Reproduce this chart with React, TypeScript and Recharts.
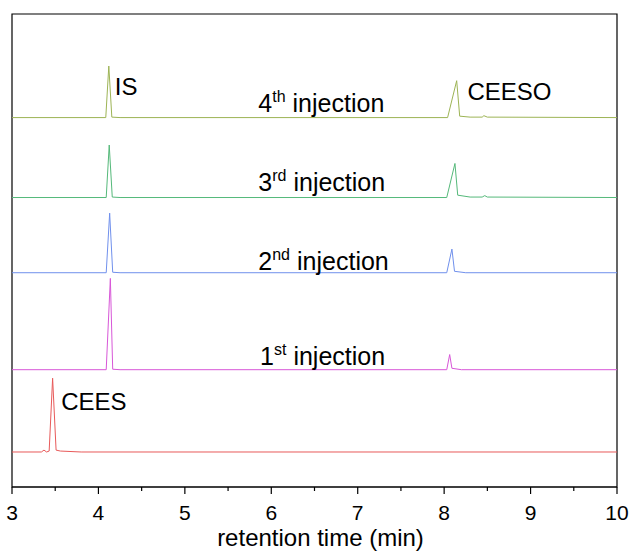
import React from 'react';
import { LineChart, Line, XAxis, YAxis, ReferenceArea, ReferenceDot } from 'recharts';

// retention time (min) / signal (offset units, plot 0..100)
const ceesTime = [3.0, 3.34, 3.37, 3.40, 3.43, 3.47, 3.51, 3.56, 3.8, 10.0];
const ceesSignal = [7.4, 7.4, 7.8, 7.4, 7.6, 23.0, 7.8, 7.6, 7.4, 7.4];

const inj1Time = [3.0, 4.09, 4.138, 4.165, 4.25, 8.03, 8.064, 8.09, 8.2, 10.0];
const inj1Signal = [24.8, 24.8, 44.1, 24.9, 24.8, 24.8, 28.0, 25.1, 24.8, 24.8];

const inj2Time = [3.0, 4.09, 4.13, 4.165, 4.25, 8.03, 8.09, 8.12, 8.25, 10.0];
const inj2Signal = [45.3, 45.3, 57.9, 45.4, 45.3, 45.3, 50.3, 45.6, 45.3, 45.3];

const inj3Time = [3.0, 4.09, 4.125, 4.16, 4.25, 8.03, 8.125, 8.157, 8.3, 8.44, 8.47, 8.5, 10.0];
const inj3Signal = [61.2, 61.2, 72.3, 61.3, 61.2, 61.2, 68.4, 61.7, 61.3, 61.3, 61.6, 61.3, 61.2];

const inj4Time = [3.0, 4.085, 4.12, 4.155, 4.25, 8.04, 8.145, 8.18, 8.3, 8.44, 8.46, 8.5, 10.0];
const inj4Signal = [78.1, 78.1, 89.0, 78.2, 78.1, 78.1, 85.9, 78.4, 78.2, 78.2, 78.5, 78.2, 78.1];

const xTicks = [3, 3.5, 4, 4.5, 5, 5.5, 6, 6.5, 7, 7.5, 8, 8.5, 9, 9.5, 10];

const labels = [
  { x: 4.19, y: 82.9, text: 'IS' },
  { x: 8.27, y: 81.9, text: 'CEESO' },
  { x: 3.57, y: 16.3, text: 'CEES' },
];
const injLabels = [
  { x: 5.85, y: 79.3, num: '4', sup: 'th' },
  { x: 5.85, y: 62.6, num: '3', sup: 'rd' },
  { x: 5.85, y: 45.9, num: '2', sup: 'nd' },
  { x: 5.87, y: 25.8, num: '1', sup: 'st' },
];

const build = (t: number[], s: number[]) => t.map((v, i) => ({ t: v, s: s[i] }));

const series = [
  { name: 'CEES', data: build(ceesTime, ceesSignal), color: '#e85a5a' },
  { name: '1st', data: build(inj1Time, inj1Signal), color: '#d857d8' },
  { name: '2nd', data: build(inj2Time, inj2Signal), color: '#7090ec' },
  { name: '3rd', data: build(inj3Time, inj3Signal), color: '#55b97a' },
  { name: '4th', data: build(inj4Time, inj4Signal), color: '#9db455' },
];

const FONT = 'Liberation Sans, Arial, sans-serif';

const Tick = (props: any) => {
  const { x, y, payload } = props;
  const major = Number.isInteger(payload.value);
  return (
    <g>
      <line x1={x} x2={x} y1={y} y2={y + (major ? 7 : 4)} stroke="#000" strokeWidth={1.2} />
      {major && (
        <text x={x} y={y + 33} textAnchor="middle" fontSize={21} fontFamily={FONT} fill="#000">
          {payload.value}
        </text>
      )}
    </g>
  );
};

export default function App() {
  return (
    <div style={{ position: 'absolute', left: 0, top: 0 }}>
      <LineChart width={631} height={552} margin={{ top: 14, right: 14, bottom: 0, left: 12 }}>
        <XAxis
          dataKey="t"
          type="number"
          domain={[3, 10]}
          ticks={xTicks}
          allowDuplicatedCategory={false}
          tick={<Tick />}
          tickLine={false}
          tickSize={0}
          tickMargin={0}
          interval={0}
          height={65}
          axisLine={{ stroke: '#000', strokeWidth: 1.2 }}
          label={{ value: 'retention time (min)', position: 'insideBottom', offset: 6, dx: 6, fontSize: 24, fontFamily: FONT, fill: '#000' }}
        />
        <YAxis type="number" domain={[0, 100]} hide />
        <ReferenceArea x1={3} x2={10} y1={0} y2={100} fill="none" stroke="#000" strokeWidth={1.2} ifOverflow="extendDomain" />
        {series.map((s) => (
          <Line
            key={s.name}
            data={s.data}
            dataKey="s"
            type="linear"
            stroke={s.color}
            strokeWidth={1}
            dot={false}
            activeDot={false}
            isAnimationActive={false}
          />
        ))}
        {labels.map((l) => (
          <ReferenceDot
            key={l.text}
            x={l.x}
            y={l.y}
            r={0}
            shape={(p: any) => (
              <text x={p.cx} y={p.cy} fontSize={24} fontFamily={FONT} fill="#000">
                {l.text}
              </text>
            )}
          />
        ))}
        {injLabels.map((l) => (
          <ReferenceDot
            key={l.num}
            x={l.x}
            y={l.y}
            r={0}
            shape={(p: any) => (
              <text x={p.cx} y={p.cy} fontSize={25} fontFamily={FONT} fill="#000">
                {l.num}
                <tspan fontSize={16} dy={-10}>{l.sup}</tspan>
                <tspan dy={10} dx={7}>injection</tspan>
              </text>
            )}
          />
        ))}
      </LineChart>
    </div>
  );
}
